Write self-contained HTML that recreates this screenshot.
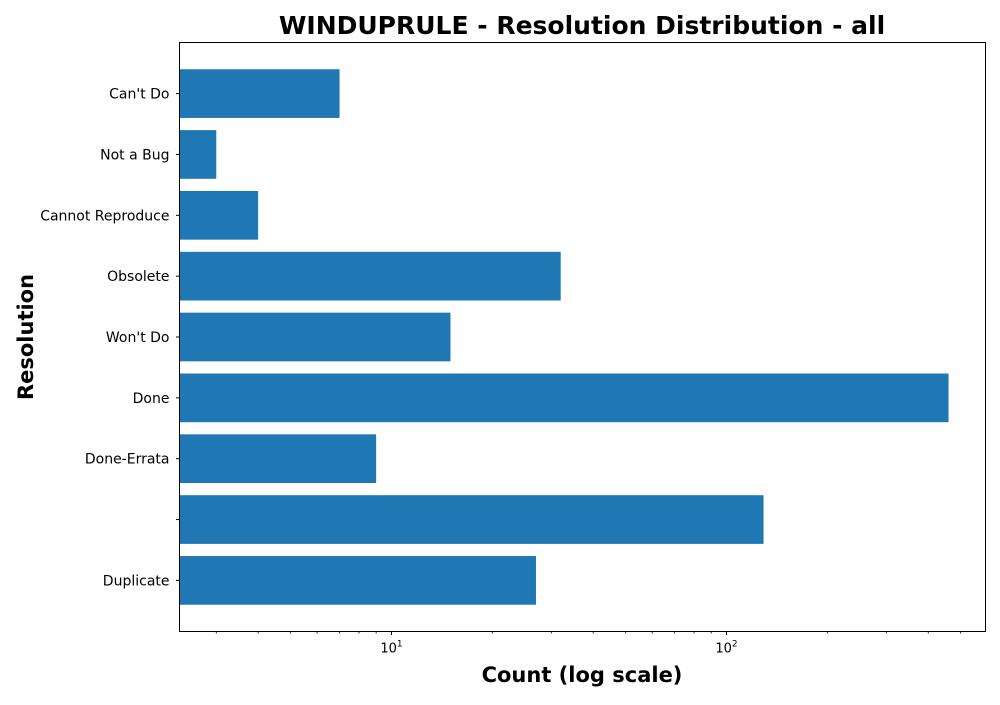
<!DOCTYPE html>
<html><head><meta charset="utf-8"><style>
body{margin:0;background:#fff;}
svg text{font-family:"DejaVu Sans","Liberation Sans",sans-serif;}
</style></head><body>
<svg id="chart" width="1000" height="700" xmlns="http://www.w3.org/2000/svg">
<rect width="1000" height="700" fill="#fff"/>
<text x="582" y="34" text-anchor="middle" font-size="25" font-weight="bold">WINDUPRULE - Resolution Distribution - all</text>
<text x="582" y="682" text-anchor="middle" font-size="21" font-weight="bold">Count (log scale)</text>
<text transform="translate(33,337) rotate(-90)" text-anchor="middle" font-size="21" font-weight="bold">Resolution</text>
<g id="bars"></g><g id="ticks"></g>
<rect x="179.5" y="42.5" width="806" height="589" fill="none" stroke="#000" stroke-width="1"/>
</svg>
<script>
const categories = ["Duplicate", "", "Done-Errata", "Done", "Won't Do", "Obsolete", "Cannot Reproduce", "Not a Bug", "Can't Do"];
const counts = [27, 129, 9, 460, 15, 32, 4, 3, 7];
const majorTicks = [10, 100];
const majorLabels = ["1", "2"];
const minorTicks = [3,4,5,6,7,8,9,20,30,40,50,60,70,80,90,200,300,400,500];

const L=179.5,R=985.5,T=42.5,B=631.5;
const lmin=Math.log10(2.33),lmax=Math.log10(593);
const xs=v=>L+(Math.log10(v)-lmin)/(lmax-lmin)*(R-L);
const ymin=-0.84,ymax=8.84;
const ys=i=>B-(i-ymin)/(ymax-ymin)*(B-T);
const NS="http://www.w3.org/2000/svg";
const bars=document.getElementById('bars'),ticks=document.getElementById('ticks');
function mk(tag,attrs,parent){const e=document.createElementNS(NS,tag);for(const k in attrs)e.setAttribute(k,attrs[k]);parent.appendChild(e);return e;}
categories.forEach((c,i)=>{
  const y0=ys(i+0.4),y1=ys(i-0.4);
  const r=mk('rect',{x:L,y:y0,width:xs(counts[i])-L,height:y1-y0,fill:'#1f77b4'},bars);
  
  
  const yc=ys(i);
  const t=mk('line',{x1:L-3.5,x2:L,y1:yc,y2:yc,stroke:'#000'},ticks);
  
  
  const lb=mk('text',{x:L-10,y:yc+5,'text-anchor':'end','font-size':'14'},ticks);
  lb.textContent=c;
  
  
});
majorTicks.forEach((v,i)=>{
  const x=xs(v);
  const t=mk('line',{x1:x,x2:x,y1:B,y2:B+3.5,stroke:'#000'},ticks);
  
  
  const lb=mk('text',{x:x,y:B+21,'text-anchor':'middle','font-size':'13'},ticks);
  lb.innerHTML='10<tspan dy="-6" font-size="9">'+majorLabels[i]+'</tspan>';
  
  
});
minorTicks.forEach(v=>{
  const x=xs(v);
  const t=mk('line',{x1:x,x2:x,y1:B,y2:B+2,stroke:'#000','stroke-width':0.8},ticks);
  
  
});
</script>
</body></html>
